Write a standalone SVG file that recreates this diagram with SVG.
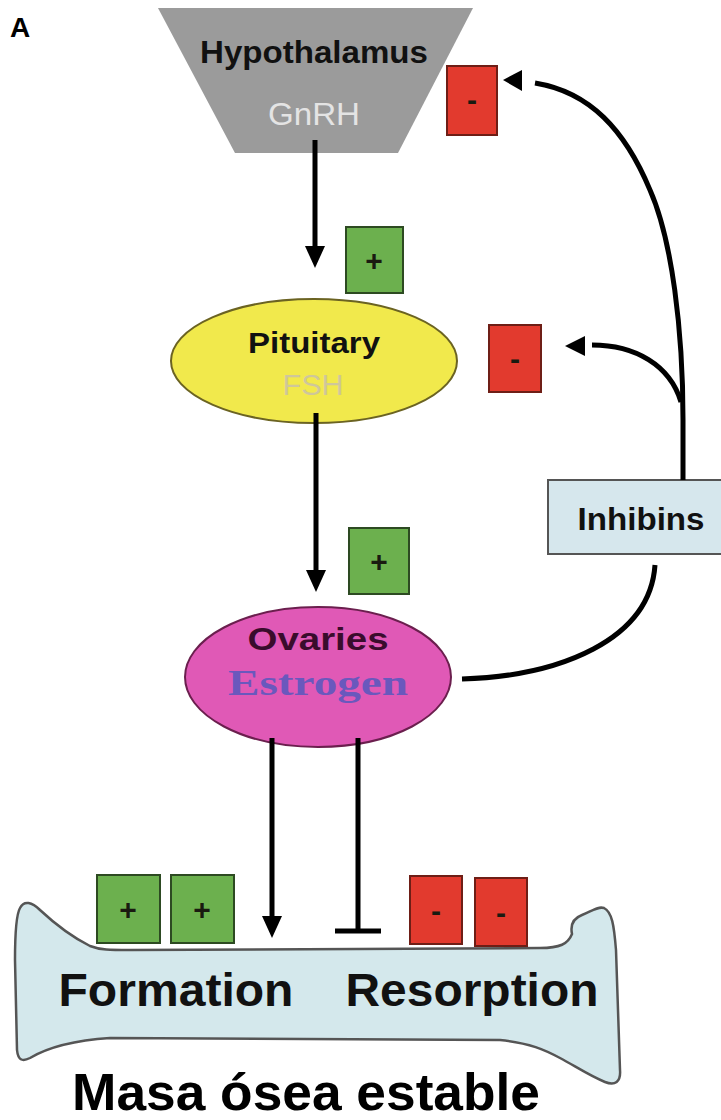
<svg xmlns="http://www.w3.org/2000/svg" width="721" height="1120" viewBox="0 0 721 1120">
<defs>
<style>
.sans{font-family:"Liberation Sans",Arial,sans-serif;}
.b{font-weight:bold;}
.pos{fill:#6cb04e;stroke:#2d4a22;stroke-width:2;}
.neg{fill:#e23a2e;stroke:#6e1e16;stroke-width:2;}
.sign{font-family:"Liberation Sans",Arial,sans-serif;font-weight:bold;text-anchor:middle;fill:#1a1a10;}
.conn{fill:none;stroke:#000;stroke-width:5;}
.mid{text-anchor:middle;}
</style>
<marker id="ah" markerUnits="userSpaceOnUse" viewBox="0 0 22 20" markerWidth="22" markerHeight="20" refX="12" refY="10" orient="auto">
<path d="M0,0 L22,10 L0,20 z" fill="#000"/>
</marker>
</defs>
<rect width="721" height="1120" fill="#fff"/>

<text x="10" y="37" class="sans b" font-size="28">A</text>

<g id="hypothalamus">
<polygon points="158,8 473,8 398,153 235,153" fill="#9b9b9b"/>
<text x="314" y="63" class="sans b mid" font-size="31" textLength="228" lengthAdjust="spacingAndGlyphs" fill="#111">Hypothalamus</text>
<text x="314" y="125" class="sans mid" font-size="31" textLength="92" lengthAdjust="spacingAndGlyphs" fill="#e4e4e4">GnRH</text>
</g>

<g id="pituitary">
<ellipse cx="314" cy="361" rx="143" ry="62" fill="#f1e94c" stroke="#6b6322" stroke-width="2"/>
<text x="314" y="353" class="sans b mid" font-size="30" textLength="132" lengthAdjust="spacingAndGlyphs" fill="#111">Pituitary</text>
<text x="313" y="395" class="sans mid" font-size="30" textLength="61" lengthAdjust="spacingAndGlyphs" fill="#cfc79a">FSH</text>
</g>

<g id="ovaries">
<ellipse cx="318" cy="677" rx="133" ry="70" fill="#e059b6" stroke="#6b1f4e" stroke-width="2"/>
<text x="318" y="650" class="sans b mid" font-size="32" textLength="141" lengthAdjust="spacingAndGlyphs" fill="#3a0c2c">Ovaries</text>
<text x="318" y="695" class="b mid" font-family="'Liberation Serif','Times New Roman',serif" font-size="36" textLength="180" lengthAdjust="spacingAndGlyphs" fill="#6a58bd">Estrogen</text>
</g>

<g id="inhibins">
<rect x="548" y="480" width="180" height="74" fill="#d6e7ed" stroke="#555" stroke-width="2"/>
<text x="641" y="530" class="sans b mid" font-size="32" textLength="127" lengthAdjust="spacingAndGlyphs" fill="#111">Inhibins</text>
</g>

<g id="bone">
<path d="M20,908 C24,900 32,902 40,910 C55,924 70,936 90,946 C100,950 110,950 130,950 L540,948 C560,948 568,944 572,934 C570,924 574,918 582,915 C592,911 598,906 604,908 C612,912 614,925 616,950 L620,1070 C621,1082 615,1086 605,1082 C590,1076 575,1066 560,1058 C545,1050 530,1043 500,1040 L110,1038 C80,1040 50,1046 30,1058 C22,1062 18,1060 17,1050 L15,960 C15,935 16,915 20,908 Z" fill="#d4e8ec" stroke="#555" stroke-width="2.5"/>
<text x="176" y="1006" class="sans b mid" font-size="47" textLength="235" lengthAdjust="spacingAndGlyphs" fill="#111">Formation</text>
<text x="472" y="1006" class="sans b mid" font-size="47" textLength="253" lengthAdjust="spacingAndGlyphs" fill="#111">Resorption</text>
</g>

<text x="306" y="1110" class="sans b mid" font-size="52" textLength="468" lengthAdjust="spacingAndGlyphs" fill="#000">Masa ósea estable</text>

<g id="signs">
<rect class="neg" x="447" y="66" width="50" height="69"/>
<text class="sign" x="472" y="110" font-size="30">-</text>
<rect class="pos" x="346" y="227" width="57" height="66"/>
<text class="sign" x="374" y="271" font-size="30">+</text>
<rect class="neg" x="489" y="325" width="52" height="67"/>
<text class="sign" x="515" y="369" font-size="30">-</text>
<rect class="pos" x="349" y="528" width="60" height="66"/>
<text class="sign" x="379" y="572" font-size="30">+</text>
<rect class="pos" x="97" y="875" width="63" height="68"/>
<text class="sign" x="128" y="920" font-size="30">+</text>
<rect class="pos" x="171" y="875" width="63" height="68"/>
<text class="sign" x="202" y="920" font-size="30">+</text>
<rect class="neg" x="410" y="876" width="52" height="68"/>
<text class="sign" x="436" y="921" font-size="30">-</text>
<rect class="neg" x="475" y="878" width="52" height="68"/>
<text class="sign" x="501" y="923" font-size="30">-</text>
</g>

<g id="connectors">
<line class="conn" x1="315" y1="140" x2="315" y2="258" marker-end="url(#ah)"/>
<line class="conn" x1="316" y1="413" x2="316" y2="582" marker-end="url(#ah)"/>
<line class="conn" x1="272" y1="738" x2="272" y2="928" marker-end="url(#ah)"/>
<line class="conn" x1="358" y1="738" x2="358" y2="930"/>
<line class="conn" x1="335" y1="931" x2="381" y2="931"/>
<path class="conn" d="M462,679 C560,676 650,640 655,565"/>
<path class="conn" d="M683,480 L683,420 C683,330 672,240 650,190 C625,130 590,92 535,83"/>
<path class="conn" d="M681,402 C670,365 635,345 592,345"/>
<polygon points="503,80 522,70 522,91" fill="#000"/>
<polygon points="565,346 585,336 585,356" fill="#000"/>
</g>
</svg>
